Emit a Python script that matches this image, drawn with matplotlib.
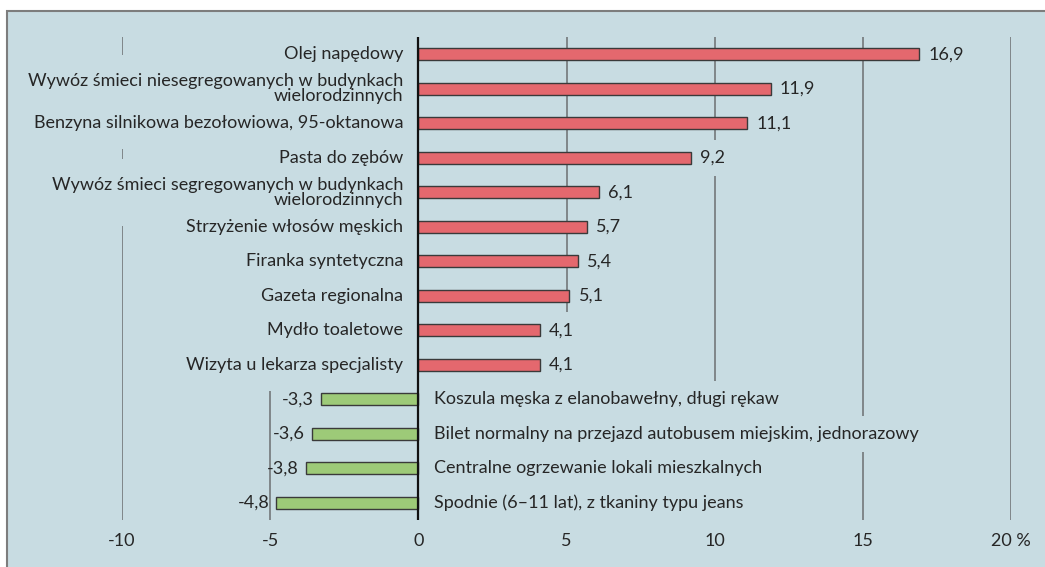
import numpy as np
import matplotlib
matplotlib.use("Agg")
import matplotlib.pyplot as plt
from matplotlib.patches import Rectangle

# data, top to bottom as in the chart
pos_labels = [
    "Olej napędowy",
    "Wywóz śmieci niesegregowanych w budynkach\nwielorodzinnych",
    "Benzyna silnikowa bezołowiowa, 95-oktanowa",
    "Pasta do zębów",
    "Wywóz śmieci segregowanych w budynkach\nwielorodzinnych",
    "Strzyżenie włosów męskich",
    "Firanka syntetyczna",
    "Gazeta regionalna",
    "Mydło toaletowe",
    "Wizyta u lekarza specjalisty",
]
pos_values = [16.9, 11.9, 11.1, 9.2, 6.1, 5.7, 5.4, 5.1, 4.1, 4.1]

neg_labels = [
    "Koszula męska z elanobawełny, długi rękaw",
    "Bilet normalny na przejazd autobusem miejskim, jednorazowy",
    "Centralne ogrzewanie lokali mieszkalnych",
    "Spodnie (6–11 lat), z tkaniny typu jeans",
]
neg_values = [-3.3, -3.6, -3.8, -4.8]

x_ticks = [-10, -5, 0, 5, 10, 15, 20]
x_ticklabels = ["-10", "-5", "0", "5", "10", "15", "20 %"]

BG = "#c8dce2"
RED = "#e4686e"
GREEN = "#9dca78"
EDGE = "#3a3a3a"
GRID = "#7a7f82"
TXT = "#262626"
FS = 13

plt.rcParams["font.family"] = ["Lato", "DejaVu Sans"]

fig = plt.figure(figsize=(10.45, 5.67), dpi=100)
fig.patch.set_facecolor("white")
# light-blue panel with grey border on top/left
panel = Rectangle((7 / 1045, -0.05), 1.1, 1 - 11 / 567 + 0.05,
                  transform=fig.transFigure, facecolor=BG,
                  edgecolor="#7d7d7d", lw=1.5, zorder=-10)
fig.patches.append(panel)

ax = fig.add_axes([122 / 1045, 1 - 520 / 567, 889 / 1045, 483 / 567])
ax.set_facecolor("none")
for s in ax.spines.values():
    s.set_visible(False)

values = pos_values + neg_values
labels = pos_labels + neg_labels
colors = [RED] * len(pos_values) + [GREEN] * len(neg_values)
y = np.arange(len(values))

ax.set_xlim(-10, 20)
ax.set_ylim(len(values) - 0.5, -0.5)

for t in x_ticks:
    if t != 0:
        ax.axvline(t, color=GRID, lw=1.3, zorder=1)
ax.axvline(0, color="#111111", lw=1.6, zorder=5)

ax.barh(y, values, height=0.36, color=colors, edgecolor=EDGE, lw=1.0, zorder=2)


def label(text, xy, dx, ha, pad=None, **kw):
    """Text, optionally over a panel-coloured box that hides the gridlines."""
    common = dict(xytext=(dx, 0), textcoords="offset points", ha=ha,
                  va="center", fontsize=FS, annotation_clip=False, **kw)
    if pad is not None:
        # box first (invisible text), above gridlines but below bars and text
        ax.annotate(text, xy, color="none", zorder=1.5,
                    bbox=dict(boxstyle=f"square,pad={pad}", facecolor=BG,
                              edgecolor="none"), **common)
    ax.annotate(text, xy, color=TXT, zorder=3, **common)


for yi, v, lab in zip(y, values, labels):
    num = f"{v:.1f}".replace(".", ",")
    if v > 0:
        label(lab, (0, yi), -11, "right", pad=1.0, linespacing=0.95,
              multialignment="right")
        label(num, (v, yi), 6.5, "left", pad=0.55)
    else:
        label(lab, (0, yi), 11.5, "left", pad=0.55)
        label(num, (v, yi), -5, "right")

ax.set_xticks(x_ticks)
ax.set_xticklabels(x_ticklabels, fontsize=FS, color=TXT)
ax.tick_params(axis="x", length=0, pad=9)
ax.set_yticks([])

fig.savefig("out.png", dpi=100, facecolor=fig.get_facecolor())
